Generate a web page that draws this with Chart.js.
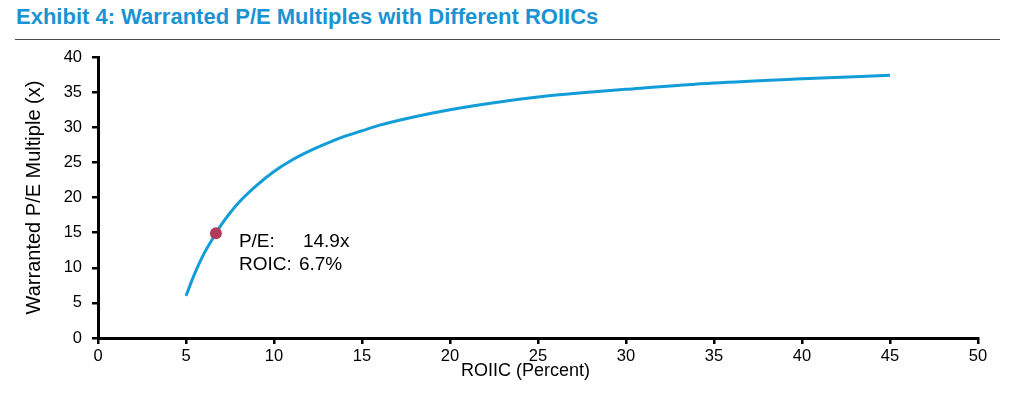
<!DOCTYPE html>
<html>
<head>
<meta charset="utf-8">
<script src="https://cdn.jsdelivr.net/npm/chart.js@4/dist/chart.umd.min.js"></script>
<style>
    body { margin: 0; background: #fff; }
    #kop {
        position: absolute; left: 16px; top: 4px;
        font: bold 22px "Liberation Sans Narrow", "Arial Narrow", "Liberation Sans", Arial, sans-serif;
        color: #1b93d3; white-space: nowrap;
    }
    #lijn { position: absolute; left: 15px; top: 39px; width: 985px; height: 0; border-top: 1.5px solid #4a4a4a; }
    #vak { position: absolute; left: 0; top: 0; width: 1011px; height: 404px; }
</style>
</head>
<body>
<div id="kop">Exhibit 4: Warranted P/E Multiples with Different ROIICs</div>
<div id="lijn"></div>
<div id="vak"><canvas id="peChart"></canvas></div>
<script>
// ROIIC (%) en bijbehorende P/E
const roiic = [5, 5.5, 6, 6.7, 7, 7.5, 8, 9, 10, 11, 12, 13, 14, 15, 16, 18, 20, 22.5, 25, 27.5, 30, 35, 40, 45];
const peMultiple = [6.0, 9.2, 11.9, 14.9, 16.1, 17.8, 19.3, 21.7, 23.7, 25.3, 26.6, 27.7, 28.7, 29.5, 30.3, 31.5, 32.5, 33.5, 34.3, 34.9, 35.4, 36.3, 36.9, 37.4];

// gemarkeerd punt
const puntRoic = [6.7];
const puntPe = [14.9];
const puntLabels = ['P/E:', 'ROIC:'];
const puntWaarden = ['14.9x', '6.7%'];

const xTicks = [0, 5, 10, 15, 20, 25, 30, 35, 40, 45, 50];
const yTicks = [0, 5, 10, 15, 20, 25, 30, 35, 40];

const fontFam = '"Liberation Sans", Arial, sans-serif';

// tekst naast het punt
const annotatiePlugin = {
    id: 'annotatie',
    afterDatasetsDraw(chart) {
        const ctx = chart.ctx;
        const px = chart.scales.x.getPixelForValue(puntRoic[0]);
        const py = chart.scales.y.getPixelForValue(puntPe[0]);
        const waardeX = [87, 83]; // tweede kolom staat niet helemaal recht in het origineel
        ctx.save();
        ctx.font = '19px ' + fontFam;
        ctx.fillStyle = '#000';
        ctx.textBaseline = 'alphabetic';
        for (let i = 0; i < puntLabels.length; i++) {
            let y = py + 13.5 + i * 23.5;
            ctx.fillText(puntLabels[i], px + 23, y);
            ctx.fillText(puntWaarden[i], px + waardeX[i], y);
        }
        ctx.restore();
    }
};

function tekenGrafiek() {
    const ctx = document.getElementById('peChart').getContext('2d');
    new Chart(ctx, {
        type: 'line',
        data: {
            datasets: [
                {
                    label: 'Warranted P/E',
                    data: roiic.map((r, i) => ({ x: r, y: peMultiple[i] })),
                    borderColor: '#129dd9',
                    borderWidth: 3,
                    pointRadius: 0,
                    cubicInterpolationMode: 'monotone',
                    fill: false,
                    order: 1
                },
                {
                    label: 'Punt',
                    data: puntRoic.map((r, i) => ({ x: r, y: puntPe[i] })),
                    showLine: false,
                    pointRadius: 6,
                    pointBackgroundColor: '#b23a5b',
                    pointBorderColor: '#b23a5b',
                    pointBorderWidth: 0,
                    order: 0
                }
            ]
        },
        options: {
            responsive: true,
            maintainAspectRatio: false,
            animation: false,
            layout: { padding: { top: 57, right: 33, bottom: 0, left: 0 } },
            plugins: { legend: { display: false }, tooltip: { enabled: false } },
            scales: {
                x: {
                    type: 'linear',
                    min: 0, max: 50,
                    afterBuildTicks: (s) => { s.ticks = xTicks.map(v => ({ value: v })); },
                    afterFit: (s) => { s.height = 66; },
                    grid: { drawOnChartArea: false, drawTicks: true, tickLength: 6, color: '#000', lineWidth: 2.5 },
                    border: { display: true, color: '#000', width: 3 },
                    ticks: { color: '#000', font: { family: fontFam, size: 16.5 }, padding: 3, maxRotation: 0 },
                    title: { display: true, text: 'ROIIC (Percent)     ', color: '#000', font: { family: fontFam, size: 18 }, padding: { top: 0, bottom: 22 } }
                },
                y: {
                    min: 0, max: 40,
                    afterBuildTicks: (s) => { s.ticks = yTicks.map(v => ({ value: v })); },
                    afterFit: (s) => { s.width = 98; },
                    grid: { drawOnChartArea: false, drawTicks: true, tickLength: 6, color: '#000', lineWidth: 2.5 },
                    border: { display: true, color: '#000', width: 3 },
                    ticks: { color: '#000', font: { family: fontFam, size: 16.5 }, padding: 10 },
                    title: { display: true, text: 'Warranted P/E Multiple (x)', color: '#000', font: { family: fontFam, size: 20 }, padding: { top: 22, bottom: 0 } }
                }
            }
        },
        plugins: [annotatiePlugin]
    });
}

window.onload = function() {
    tekenGrafiek();
};
</script>
</body>
</html>
